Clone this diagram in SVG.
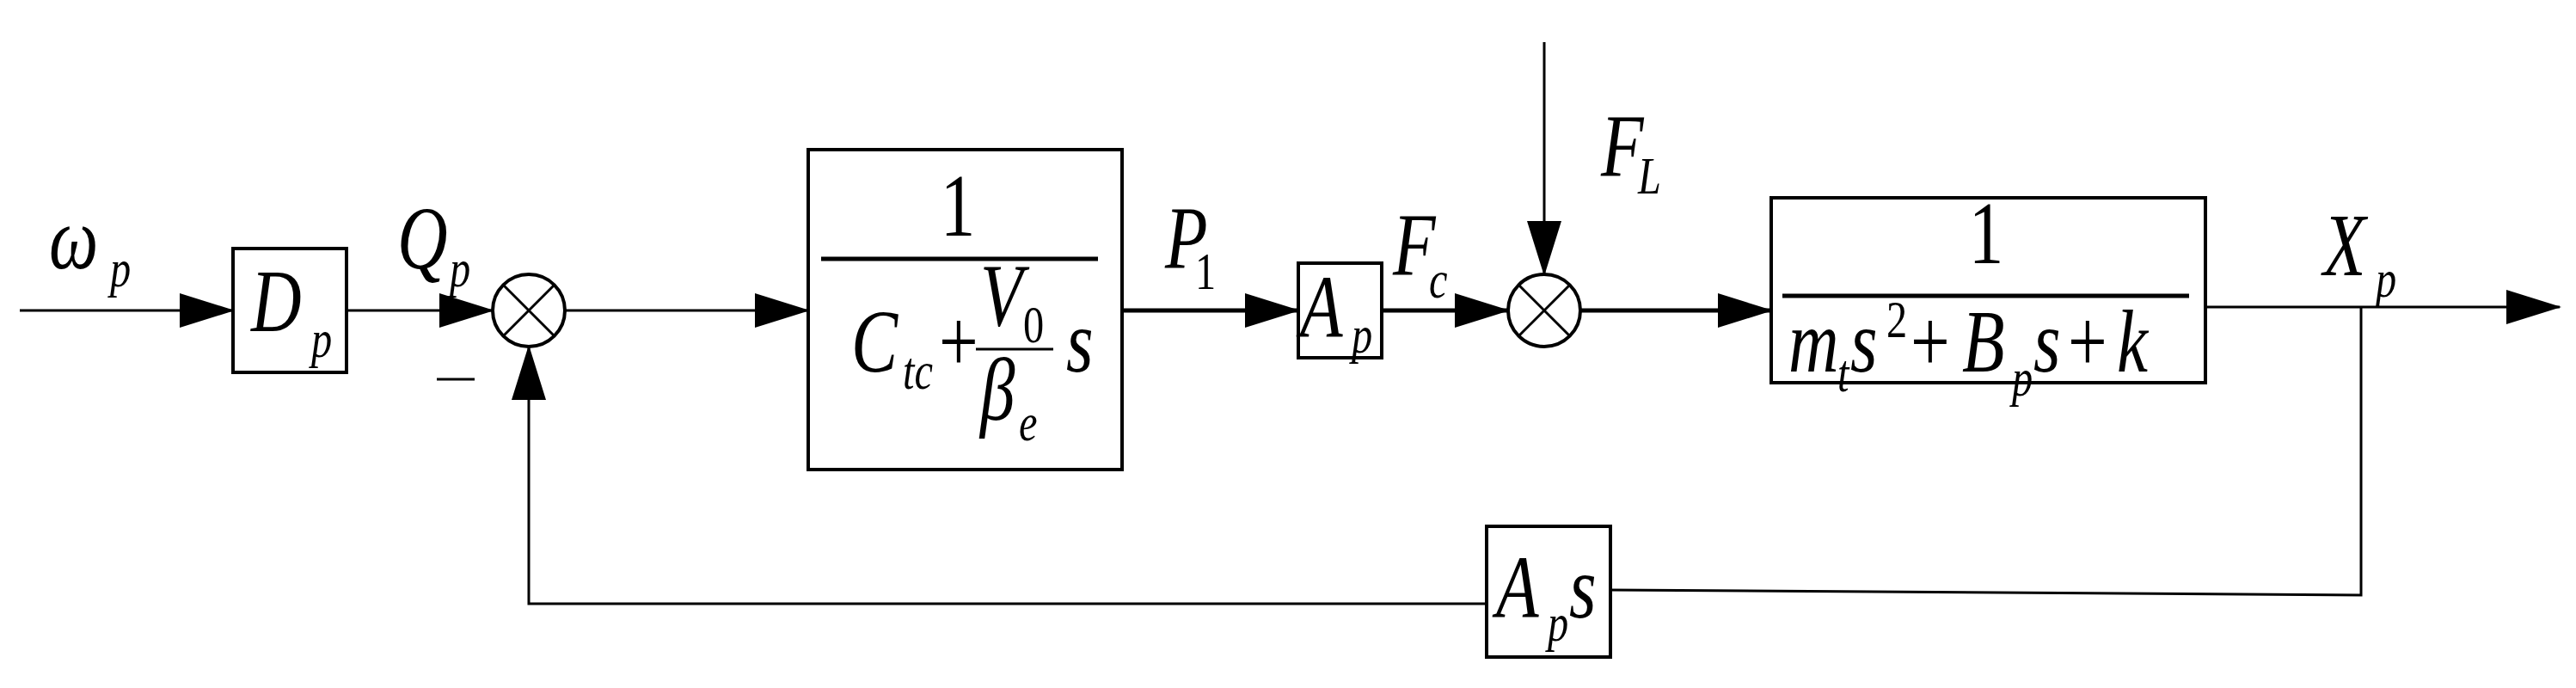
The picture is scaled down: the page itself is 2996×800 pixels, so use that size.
<svg xmlns="http://www.w3.org/2000/svg" width="2996" height="800" viewBox="0 0 2996 800">
<style>
text{font-family:"Liberation Serif","Times New Roman",serif;font-style:italic;fill:#000}
.b{font-size:104px}.s{font-size:62px}.n{font-style:normal}
.box{fill:#fff;stroke:#000;stroke-width:4}
.thin{fill:none;stroke:#000;stroke-width:3}
.thick{fill:none;stroke:#000;stroke-width:5}
</style>
<defs><marker id="a" markerWidth="64" markerHeight="40" refX="62" refY="20" orient="auto" markerUnits="userSpaceOnUse"><path d="M0,0L64,20L0,40z" fill="#000"/></marker></defs>
<rect width="2996" height="800" fill="#fff"/>
<g id="connectors">
<path class="thin" d="M23,361H271" marker-end="url(#a)"/>
<path class="thin" d="M403,361H573" marker-end="url(#a)"/>
<path class="thin" d="M657,361H940" marker-end="url(#a)"/>
<path class="thick" d="M1305,361H1510" marker-end="url(#a)"/>
<path class="thick" d="M1607,361H1754" marker-end="url(#a)"/>
<path class="thin" d="M1796,49V319" marker-end="url(#a)"/>
<path class="thick" d="M1838,361H2060" marker-end="url(#a)"/>
<path class="thin" d="M2565,357H2977" marker-end="url(#a)"/>
<path class="thin" d="M2746,357V692L1873,686"/>
<path class="thin" d="M1729,702H615V403" marker-end="url(#a)"/>
<path class="thin" d="M508,441H552"/>
</g>
<g id="sum1"><circle cx="615" cy="361" r="42" class="box" stroke-width="3"/><path class="thin" d="M585,331L645,391M645,331L585,391"/></g>
<g id="sum2"><circle cx="1796" cy="361" r="42" class="box" stroke-width="3"/><path class="thin" d="M1766,331L1826,391M1826,331L1766,391"/></g>
<g id="Dp"><rect class="box" x="271" y="289" width="132" height="144"/><text class="b" transform="matrix(0.78,0,0,1,292,385)">D</text><text class="s" transform="matrix(0.78,0,0,1,362,415)">p</text></g>
<g id="labels">
<text class="b" transform="matrix(0.78,0,0,1,57,312)">ω</text><text class="s" transform="matrix(0.78,0,0,1,128,333)">p</text>
<text class="b" transform="matrix(0.78,0,0,1,462,312)">Q</text><text class="s" transform="matrix(0.78,0,0,1,523,333)">p</text>
<text class="b" transform="matrix(0.78,0,0,1,1355,312)">P</text><text class="s n" transform="matrix(0.78,0,0,1,1390,336)">1</text>
<text class="b" transform="matrix(0.78,0,0,1,1620,320)">F</text><text class="s" transform="matrix(0.78,0,0,1,1662,346)">c</text>
<text class="b" transform="matrix(0.78,0,0,1,1862,205)">F</text><text class="s" transform="matrix(0.78,0,0,1,1905,225)">L</text>
<text class="b" transform="matrix(0.78,0,0,1,2702,320)">X</text><text class="s" transform="matrix(0.78,0,0,1,2763,345)">p</text>
</g>
<g id="G1"><rect class="box" x="940" y="174" width="365" height="372"/>
<text class="b n" transform="matrix(0.78,0,0,1,1114,274)" text-anchor="middle">1</text>
<path class="thick" d="M955,301H1277"/>
<text class="b" transform="matrix(0.78,0,0,1,990,432)">C</text><text class="s" transform="matrix(0.78,0,0,1,1050,452)">tc</text>
<text class="b n" transform="matrix(0.78,0,0,1,1092,432)">+</text>
<text class="b" transform="matrix(0.78,0,0,1,1140,378)">V</text><text class="s n" transform="matrix(0.78,0,0,1,1190,398)">0</text>
<path class="thin" d="M1135,406H1225"/>
<text class="b" transform="matrix(0.78,0,0,1,1140,488)">β</text><text class="s" transform="matrix(0.78,0,0,1,1185,512)">e</text>
<text class="b" transform="matrix(0.78,0,0,1,1240,432)">s</text>
</g>
<g id="Ap"><rect class="box" x="1510" y="306" width="97" height="110"/><text class="b" transform="matrix(0.78,0,0,1,1512,392)">A</text><text class="s" transform="matrix(0.78,0,0,1,1572,410)">p</text></g>
<g id="G2"><rect class="box" x="2060" y="230" width="505" height="215"/>
<text class="b n" transform="matrix(0.78,0,0,1,2310,306)" text-anchor="middle">1</text>
<path class="thick" d="M2073,344H2546"/>
<text class="b" transform="matrix(0.78,0,0,1,2080,432)">m</text><text class="s" transform="matrix(0.78,0,0,1,2137,455)">t</text>
<text class="b" transform="matrix(0.78,0,0,1,2152,432)">s</text><text class="s n" transform="matrix(0.78,0,0,1,2194,392)">2</text>
<text class="b n" transform="matrix(0.78,0,0,1,2222,432)">+</text>
<text class="b" transform="matrix(0.78,0,0,1,2282,432)">B</text><text class="s" transform="matrix(0.78,0,0,1,2340,460)">p</text>
<text class="b" transform="matrix(0.78,0,0,1,2365,432)">s</text>
<text class="b n" transform="matrix(0.78,0,0,1,2405,432)">+</text>
<text class="b" transform="matrix(0.78,0,0,1,2462,432)">k</text>
</g>
<g id="Aps"><rect class="box" x="1729" y="612" width="144" height="152"/><text class="b" transform="matrix(0.78,0,0,1,1740,718)">A</text><text class="s" transform="matrix(0.78,0,0,1,1800,745)">p</text><text class="b" transform="matrix(0.78,0,0,1,1825,718)">s</text></g>
</svg>
